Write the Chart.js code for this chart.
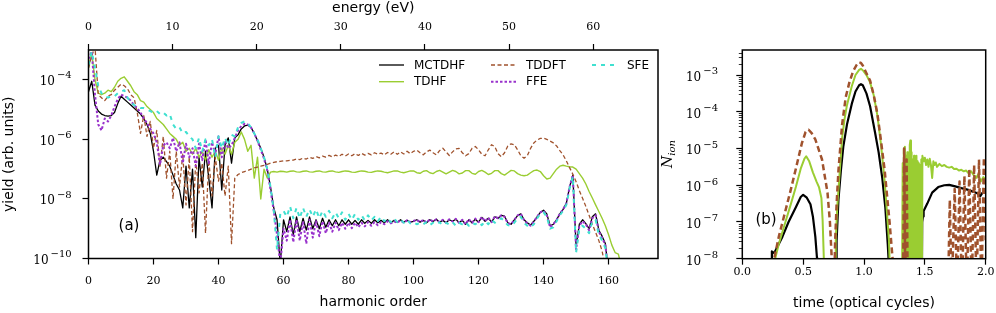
<!DOCTYPE html>
<html>
<head>
<meta charset="utf-8">
<script src="https://cdn.jsdelivr.net/npm/chart.js@4.4.0/dist/chart.umd.min.js"></script>
<style>
  html, body { margin: 0; padding: 0; background: #fff; }
  #wrap { position: relative; width: 996px; height: 313px; overflow: hidden; }
  canvas { position: absolute; top: 0; }
  #spectrum { left: 0; width: 660px; height: 313px; }
  #ionRate { left: 660px; width: 336px; height: 313px; }
</style>
</head>
<body>
<div id="wrap">
  <canvas id="spectrum" width="660" height="313"></canvas>
  <canvas id="ionRate" width="336" height="313"></canvas>
</div>
<script>
// ---- panel (a): harmonic spectra, values are log10(yield) at harmonic order 0,1,2,...
const harmonicTicks = [0, 20, 40, 60, 80, 100, 120, 140, 160];
const energyTicks = [0, 10, 20, 30, 40, 50, 60];
const yieldTicks = [1e-10, 1e-8, 1e-6, 1e-4];
const harmonicMax = 175.2;
const energyMax = 67.7;   // top axis: photon energy of harmonicMax
const harmonicOrder = Array.from({ length: 165 }, (_, i) => i);

const mctdhfYield = [
  -4.4, -4.05, -4.85, -5.05, -5.15, -5.2, -5.22, -5.2, -5.1, -4.8,
  -4.55, -4.65, -4.75, -4.85, -4.95, -5.05, -5.15, -5.3, -5.5, -5.8,
  -6.4, -7.2, -6.7, -6.6, -6.75, -6.9, -7.2, -7.5, -7.7, -8.3,
  -6.9, -8.3, -7.0, -9.3, -6.6, -7.6, -6.4, -7.3, -8.3, -6.3,
  -6.2, -7.7, -6.2, -5.95, -6.8, -5.95, -5.85, -5.65, -5.55, -5.52,
  -5.6, -5.8, -6.05, -6.3, -6.6, -7.0, -7.6, -8.3, -8.7, -10.2,
  -8.7, -9.1, -8.6, -9.2, -8.6, -9.1, -8.65, -9.05, -8.6, -9.0,
  -8.7, -9.0, -8.65, -8.95, -8.7, -8.9, -8.7, -8.9, -8.7, -8.85,
  -8.7, -8.85, -8.72, -8.85, -8.7, -8.82, -8.72, -8.82, -8.7, -8.8,
  -8.72, -8.8, -8.7, -8.8, -8.72, -8.78, -8.7, -8.78, -8.72, -8.78,
  -8.75, -8.7, -8.78, -8.72, -8.8, -8.7, -8.76, -8.68, -8.78, -8.72,
  -8.8, -8.7, -8.75, -8.68, -8.8, -8.72, -8.85, -8.7, -8.8, -8.68,
  -8.78, -8.62, -8.75, -8.65, -8.78, -8.6, -8.65, -8.55, -8.58, -8.8,
  -8.85, -8.7, -8.56, -8.5, -8.7, -8.8, -8.88, -8.75, -8.6, -8.45,
  -8.38, -8.5, -8.9, -8.85, -8.7, -8.5, -8.35, -8.15, -7.6, -7.2,
  -9.6, -8.85, -8.7, -8.83, -9.0, -8.6, -8.5, -9.05, -9.25, -9.5,
  -10.5
];
const tdhfYield = [
  -3.6, -3.1, -4.0, -4.45, -4.5, -4.45, -4.35, -4.4, -4.25, -4.05,
  -3.95, -3.9, -4.05, -4.2, -4.4, -4.5, -4.7, -4.75, -4.9, -5.0,
  -5.1, -5.3, -5.4, -5.5, -5.65, -5.8, -5.9, -6.0, -6.2, -6.1,
  -6.4, -6.3, -6.5, -6.3, -6.6, -6.4, -6.7, -6.35, -6.6, -6.4,
  -6.7, -6.3, -6.5, -6.2, -6.5, -6.1, -6.0, -5.75, -6.0, -6.4,
  -6.2, -7.3, -6.6, -8.0, -7.0, -7.3, -7.1, -7.08, -7.1, -7.07,
  -7.08, -7.1, -7.07, -7.06, -7.09, -7.1, -7.07, -7.06, -7.09, -7.1,
  -7.07, -7.06, -7.09, -7.1, -7.07, -7.06, -7.09, -7.11, -7.08, -7.06,
  -7.07, -7.1, -7.11, -7.08, -7.06, -7.07, -7.1, -7.11, -7.08, -7.06,
  -7.07, -7.1, -7.12, -7.09, -7.06, -7.06, -7.1, -7.12, -7.09, -7.06,
  -7.06, -7.12, -7.14, -7.07, -7.05, -7.12, -7.15, -7.08, -7.04, -7.1,
  -7.16, -7.1, -7.04, -7.08, -7.16, -7.13, -7.05, -7.05, -7.14, -7.17,
  -7.08, -7.04, -7.1, -7.18, -7.14, -7.05, -7.05, -7.15, -7.2, -7.12,
  -7.04, -7.06, -7.15, -7.2, -7.22, -7.2, -7.12, -7.05, -7.03, -7.08,
  -7.22, -7.33, -7.3, -7.15, -7.0, -6.9, -6.87, -6.9, -6.92, -6.93,
  -7.0, -7.15, -7.3, -7.5, -7.75, -7.97, -8.2, -8.42, -8.65, -8.9,
  -9.2, -9.55, -9.8, -9.85, -10.3
];
const tddftYield = [
  -3.6, -3.2, -2.9, -4.5, -4.6, -4.7, -4.55, -4.5, -4.35, -4.25,
  -4.15, -4.2, -4.3, -4.5, -4.6, -5.1, -5.8, -5.2, -5.9, -5.4,
  -6.3, -5.7, -6.9, -5.9, -7.3, -6.4, -8.0, -6.4, -7.6, -6.5,
  -8.2, -6.6, -9.1, -6.7, -7.8, -6.8, -9.15, -6.7, -7.9, -6.6,
  -7.4, -6.8, -7.9, -6.9, -9.5, -7.3, -7.18, -7.12, -7.08, -7.05,
  -7.0, -6.96, -6.93, -6.9, -6.87, -6.84, -6.8, -6.77, -6.75, -6.74,
  -6.72, -6.72, -6.7, -6.7, -6.66, -6.68, -6.63, -6.66, -6.6, -6.64,
  -6.58, -6.62, -6.56, -6.6, -6.54, -6.59, -6.53, -6.57, -6.5, -6.56,
  -6.49, -6.55, -6.48, -6.54, -6.47, -6.53, -6.47, -6.52, -6.45, -6.5,
  -6.46, -6.52, -6.44, -6.5, -6.42, -6.5, -6.42, -6.49, -6.4, -6.48,
  -6.4, -6.36, -6.45, -6.52, -6.42, -6.36, -6.45, -6.52, -6.38, -6.3,
  -6.42, -6.54, -6.42, -6.32, -6.3, -6.45, -6.55, -6.48, -6.3, -6.24,
  -6.35, -6.5, -6.55, -6.35, -6.18, -6.25, -6.48, -6.58, -6.45, -6.22,
  -6.15, -6.18, -6.35, -6.55, -6.63, -6.55, -6.3, -6.12, -6.02, -5.97,
  -5.96, -6.0, -6.06, -6.12, -6.22, -6.38, -6.52, -6.72, -6.95, -7.17,
  -7.42, -7.72, -7.98, -8.25, -8.55, -8.85, -9.12, -9.4, -9.75, -10.3
];
const ffeYield = [
  -3.3, -3.05, -4.5, -5.5, -5.7, -5.3, -5.4, -5.2, -4.9, -4.65,
  -4.5, -4.55, -4.6, -4.7, -4.85, -4.95, -5.1, -5.3, -5.45, -5.65,
  -5.8, -6.1, -6.85, -6.2, -6.1, -6.3, -5.95, -6.4, -6.1, -6.8,
  -6.15, -6.6, -6.3, -6.9, -6.15, -6.7, -6.0, -6.8, -6.1, -6.5,
  -5.9, -6.6, -6.05, -6.3, -6.2, -5.95, -5.7, -5.55, -5.48, -5.5,
  -5.6, -5.8, -6.05, -6.35, -6.65, -7.05, -7.7, -8.4, -9.2, -10.2,
  -9.0, -9.4, -8.7, -9.45, -8.7, -9.4, -8.75, -9.5, -8.7, -9.3,
  -8.75, -9.25, -8.75, -9.15, -8.8, -9.1, -8.8, -9.05, -8.8, -9.0,
  -8.8, -8.98, -8.8, -8.95, -8.8, -8.92, -8.78, -8.9, -8.78, -8.88,
  -8.78, -8.85, -8.75, -8.82, -8.75, -8.8, -8.72, -8.8, -8.72, -8.78,
  -8.74, -8.7, -8.78, -8.7, -8.8, -8.68, -8.76, -8.68, -8.78, -8.7,
  -8.8, -8.68, -8.76, -8.67, -8.8, -8.7, -8.85, -8.68, -8.8, -8.66,
  -8.78, -8.6, -8.75, -8.63, -8.78, -8.58, -8.65, -8.55, -8.6, -8.82,
  -8.85, -8.7, -8.55, -8.5, -8.72, -8.82, -8.9, -8.76, -8.6, -8.45,
  -8.4, -8.55, -8.95, -8.85, -8.7, -8.5, -8.35, -8.15, -7.6, -7.2,
  -9.7, -8.9, -8.75, -8.85, -9.05, -8.65, -8.55, -9.1, -9.3, -9.55,
  -10.5
];
const sfeYield = [
  -3.5, -3.05, -3.6, -4.2, -4.45, -4.55, -4.6, -4.55, -4.55, -4.45,
  -4.4, -4.35, -4.6, -4.75, -4.85, -4.9, -4.95, -4.95, -5.0, -5.05,
  -5.1, -5.05, -5.15, -5.1, -5.2, -5.15, -5.5, -5.65, -5.6, -5.8,
  -5.75, -5.9, -6.0, -6.3, -5.95, -6.4, -6.0, -6.2, -6.0, -6.6,
  -5.9, -6.3, -5.95, -6.2, -5.85, -5.9, -5.6, -5.45, -5.4, -5.45,
  -5.6, -5.8, -6.0, -6.3, -6.6, -7.0, -7.6, -8.4, -9.7, -8.5,
  -8.4, -8.6, -8.25, -8.65, -8.3, -8.65, -8.3, -8.6, -8.35, -8.6,
  -8.35, -8.65, -8.4, -8.6, -8.4, -8.65, -8.45, -8.65, -8.45, -8.7,
  -8.5, -8.7, -8.5, -8.7, -8.55, -8.72, -8.55, -8.72, -8.6, -8.75,
  -8.6, -8.75, -8.65, -8.78, -8.65, -8.78, -8.7, -8.8, -8.7, -8.82,
  -8.78, -8.85, -8.8, -8.85, -8.78, -8.88, -8.8, -8.85, -8.78, -8.88,
  -8.8, -8.86, -8.78, -8.9, -8.8, -8.85, -8.78, -8.9, -8.8, -8.85,
  -8.78, -8.88, -8.75, -8.85, -8.7, -8.8, -8.7, -8.65, -8.75, -8.88,
  -8.9, -8.8, -8.65, -8.6, -8.8, -8.9, -8.95, -8.85, -8.65, -8.5,
  -8.45, -8.6, -9.0, -8.95, -8.75, -8.55, -8.4, -8.2, -7.65, -7.25,
  -9.8, -9.0, -8.9, -9.0, -9.15, -8.75, -8.7, -9.2, -9.4, -9.65,
  -10.5
];

// ---- panel (b): ionization rate, [time (optical cycles), log10(rate)]
const timeTicks = [0, 0.5, 1, 1.5, 2];
const rateTicks = [1e-8, 1e-7, 1e-6, 1e-5, 1e-4, 1e-3];
const rateMin = 1e-8;
const rateMax = 4.8e-3;

const mctdhfRate = [
  [0.24, -9], [0.243, -7.8], [0.25, -7.85], [0.27, -7.8], [0.33, -7.4], [0.38, -7.0], [0.44, -6.6],
  [0.48, -6.32], [0.50, -6.26], [0.53, -6.34], [0.56, -6.52], [0.58, -6.85], [0.60, -7.4], [0.614, -8.0], [0.62, -9],
  [0.77, -9], [0.775, -7.5], [0.79, -6.4], [0.81, -5.6], [0.83, -4.95], [0.86, -4.35], [0.90, -3.78], [0.93, -3.45],
  [0.96, -3.28], [0.975, -3.25], [0.99, -3.28], [1.02, -3.5], [1.05, -3.85], [1.09, -4.55], [1.12, -5.1], [1.15, -5.8],
  [1.175, -6.6], [1.195, -7.6], [1.205, -8.2], [1.21, -9],
  [1.475, -9], [1.478, -7.0], [1.485, -6.85], [1.49, -6.7], [1.52, -6.5], [1.56, -6.2], [1.61, -6.05], [1.66, -6.0],
  [1.70, -5.99], [1.75, -6.03], [1.80, -6.08], [1.85, -6.12], [1.90, -6.18], [1.93, -6.22], [1.955, -6.3], [1.97, -6.22],
  [1.985, -6.17], [2.0, -6.2]
];
const tdhfRate = [
  [0.265, -9], [0.27, -8.0], [0.30, -7.6], [0.35, -7.05], [0.40, -6.5], [0.44, -6.05], [0.48, -5.55], [0.51, -5.28],
  [0.525, -5.21], [0.55, -5.35], [0.58, -5.65], [0.61, -5.9], [0.63, -6.05], [0.65, -6.35], [0.66, -6.95], [0.67, -8.0], [0.675, -9],
  [0.762, -9], [0.768, -7.5], [0.78, -6.6], [0.795, -5.9], [0.82, -4.72], [0.84, -4.2], [0.86, -3.82], [0.90, -3.3],
  [0.93, -3.0], [0.96, -2.86], [0.975, -2.83], [0.99, -2.87], [1.02, -3.0], [1.05, -3.2], [1.08, -3.55], [1.11, -4.1],
  [1.14, -4.9], [1.17, -5.9], [1.19, -6.8], [1.205, -7.5], [1.212, -8.2], [1.215, -9],
  [1.312, -9], [1.318, -5.4], [1.322, -9], [1.327, -5.0], [1.332, -9], [1.336, -4.95], [1.341, -8.5], [1.346, -5.2],
  [1.351, -9], [1.356, -5.1], [1.361, -8.7], [1.366, -5.3], [1.371, -9], [1.376, -4.9], [1.381, -4.78], [1.386, -8.4],
  [1.391, -5.1], [1.396, -9], [1.401, -5.3], [1.406, -8.8], [1.411, -5.2], [1.416, -9], [1.421, -5.4], [1.426, -8.6],
  [1.431, -5.2], [1.436, -9], [1.441, -5.35], [1.446, -8.9], [1.451, -5.4], [1.456, -9], [1.461, -5.45], [1.466, -8.7],
  [1.471, -5.3], [1.476, -9], [1.48, -5.2],
  [1.49, -5.35], [1.50, -5.25], [1.51, -5.45], [1.52, -5.3], [1.53, -5.5], [1.54, -5.28], [1.55, -5.45], [1.56, -5.8],
  [1.57, -5.35], [1.58, -5.45], [1.59, -5.38], [1.60, -5.5], [1.62, -5.42], [1.64, -5.48], [1.66, -5.45], [1.68, -5.5],
  [1.70, -5.52], [1.72, -5.5], [1.74, -5.56], [1.76, -5.55], [1.78, -5.6], [1.80, -5.58], [1.82, -5.62], [1.84, -5.6],
  [1.86, -5.68], [1.88, -5.62], [1.90, -5.72], [1.92, -5.8], [1.94, -5.7], [1.96, -5.9], [1.98, -5.78], [2.0, -5.85]
];
const tddftRate = [
  [0.258, -9], [0.262, -8.0], [0.30, -7.4], [0.35, -6.75], [0.40, -6.1], [0.44, -5.55], [0.49, -4.85], [0.52, -4.55],
  [0.545, -4.49], [0.57, -4.58], [0.60, -4.75], [0.63, -5.05], [0.655, -5.3], [0.68, -5.8], [0.70, -6.2], [0.72, -7.0],
  [0.735, -8.0], [0.74, -9],
  [0.755, -9], [0.762, -7.6], [0.775, -6.5], [0.79, -5.6], [0.82, -4.35], [0.85, -3.6], [0.88, -3.2], [0.91, -2.9],
  [0.94, -2.72], [0.958, -2.65], [0.975, -2.67], [0.99, -2.74], [1.02, -2.95], [1.05, -3.15], [1.08, -3.55], [1.11, -4.05],
  [1.14, -4.8], [1.17, -5.6], [1.19, -6.3], [1.21, -7.0], [1.225, -7.6], [1.235, -8.0], [1.24, -9],
  [1.32, -9], [1.33, -5.0], [1.34, -9], [1.35, -5.3], [1.36, -9],
  [1.69, -9], [1.705, -6.4], [1.72, -9], [1.745, -6.1], [1.765, -9], [1.785, -5.9], [1.805, -9], [1.825, -5.75],
  [1.845, -9], [1.865, -5.55], [1.885, -9], [1.905, -5.45], [1.925, -9], [1.945, -5.3], [1.965, -9], [1.985, -5.25], [2.0, -7.5]
];

// ---- helpers
function spectrumPoints(logs) {
  return logs.map((v, i) => ({ x: harmonicOrder[i], y: Math.pow(10, v) }));
}
function ratePoints(pairs) {
  return pairs.map(p => ({ x: p[0], y: Math.pow(10, p[1]) }));
}
function setTicks(values) {
  return axis => { axis.ticks = values.map(v => ({ value: v })); };
}

Chart.defaults.font.family = 'DejaVu Sans';
Chart.defaults.color = '#000';

// box round the plot area, drawn over the lines
const frame = {
  id: 'frame',
  afterDatasetsDraw(chart) {
    const a = chart.chartArea, ctx = chart.ctx;
    ctx.save();
    ctx.strokeStyle = '#000';
    ctx.lineWidth = 1.5;
    ctx.strokeRect(a.left, a.top, a.right - a.left, a.bottom - a.top);
    ctx.restore();
  }
};

// 10^n labels on the log axis, plus optional minor ticks and extra texts
const logLabels = {
  id: 'logLabels',
  afterDraw(chart, args, opts) {
    const ctx = chart.ctx, scale = chart.scales.y, a = chart.chartArea;
    ctx.save();
    ctx.fillStyle = '#000';
    ctx.strokeStyle = '#000';
    ctx.textAlign = 'right';
    ctx.textBaseline = 'middle';
    scale.ticks.forEach(t => {
      const y = scale.getPixelForValue(t.value);
      const e = Math.round(Math.log10(t.value));
      const expText = '\u2212' + Math.abs(e);
      ctx.font = '10px "DejaVu Serif"';
      ctx.fillText(expText, opts.right, y + opts.expDy);
      const w = ctx.measureText(expText).width;
      ctx.font = '12px "DejaVu Serif"';
      ctx.fillText('10', opts.right - w - 2, y + opts.baseDy);
    });
    if (opts.minor) {
      ctx.lineWidth = 0.8;
      for (let n = -9; n <= -2; n++) {
        for (let k = 2; k <= 9; k++) {
          const v = k * Math.pow(10, n);
          if (v < scale.min || v > scale.max) continue;
          const y = Math.round(scale.getPixelForValue(v)) + 0.5;
          ctx.beginPath();
          ctx.moveTo(a.left, y);
          ctx.lineTo(a.left - 3.5, y);
          ctx.stroke();
        }
      }
    }
    // panel tag
    ctx.textAlign = 'center';
    ctx.font = '15px "DejaVu Sans"';
    ctx.fillText(opts.tag, opts.tagX, opts.tagY);
    ctx.restore();
  }
};

// legend in three columns like the original figure
const columnLegend = {
  id: 'columnLegend',
  afterDraw(chart, args, opts) {
    const ctx = chart.ctx;
    ctx.save();
    ctx.font = '12px "DejaVu Sans"';
    ctx.textAlign = 'left';
    ctx.textBaseline = 'middle';
    opts.slots.forEach((s, i) => {
      const ds = chart.data.datasets[i];
      ctx.strokeStyle = ds.borderColor;
      ctx.lineWidth = ds.borderWidth;
      ctx.setLineDash(ds.borderDash || []);
      ctx.beginPath();
      ctx.moveTo(s[0], s[1]);
      ctx.lineTo(s[0] + 25, s[1]);
      ctx.stroke();
      ctx.setLineDash([]);
      ctx.fillStyle = '#000';
      ctx.fillText(ds.label, s[0] + 35, s[1] + 0.5);
    });
    ctx.restore();
  }
};

// dotted N with subscript "ion" as the y title of panel (b)
const rateTitle = {
  id: 'rateTitle',
  afterDraw(chart) {
    const ctx = chart.ctx;
    ctx.save();
    ctx.translate(12, 154);
    ctx.rotate(-Math.PI / 2);
    ctx.fillStyle = '#000';
    ctx.textBaseline = 'alphabetic';
    ctx.textAlign = 'left';
    ctx.font = 'italic 14px "DejaVu Serif"';
    const nw = ctx.measureText('N').width;
    ctx.font = 'italic 10px "DejaVu Serif"';
    const sw = ctx.measureText('ion').width;
    const x0 = -(nw + sw) / 2;
    ctx.font = 'italic 14px "DejaVu Serif"';
    ctx.fillText('N', x0, 0);
    ctx.beginPath();
    ctx.arc(x0 + nw * 0.6, -13.5, 1.1, 0, Math.PI * 2);
    ctx.fill();
    ctx.font = 'italic 10px "DejaVu Serif"';
    ctx.fillText('ion', x0 + nw, 3);
    ctx.restore();
  }
};

const tickFont = { family: 'DejaVu Serif', size: 11 };
const titleFont = { family: 'DejaVu Sans', size: 14 };
const tickGrid = { drawOnChartArea: false, drawTicks: true, tickLength: 6, tickWidth: 1.2, tickColor: '#000' };

new Chart(document.getElementById('spectrum'), {
  type: 'line',
  data: {
    datasets: [
      { label: 'MCTDHF', data: spectrumPoints(mctdhfYield), borderColor: '#000000', borderWidth: 1.3, borderDash: [], order: 5 },
      { label: 'TDHF', data: spectrumPoints(tdhfYield), borderColor: '#9acd32', borderWidth: 1.4, borderDash: [], order: 4 },
      { label: 'TDDFT', data: spectrumPoints(tddftYield), borderColor: '#a0522d', borderWidth: 1.3, borderDash: [4, 2.5], order: 3 },
      { label: 'FFE', data: spectrumPoints(ffeYield), borderColor: '#9932cc', borderWidth: 2, borderDash: [2.5, 2], order: 2 },
      { label: 'SFE', data: spectrumPoints(sfeYield), borderColor: '#40e0d0', borderWidth: 2, borderDash: [4, 5], order: 1 }
    ]
  },
  options: {
    responsive: false,
    animation: false,
    devicePixelRatio: 1,
    layout: { padding: { left: 0, right: 2, top: 0, bottom: 0 }, autoPadding: false },
    elements: { point: { radius: 0 }, line: { tension: 0, borderJoinStyle: 'round' } },
    plugins: {
      legend: { display: false },
      tooltip: { enabled: false },
      columnLegend: { slots: [[379, 65], [379, 81.7], [491, 65], [491, 81.7], [592, 65]] },
      logLabels: { right: 71.7, baseDy: 2.3, expDy: -4, minor: false, tag: '(a)', tagX: 129, tagY: 226 }
    },
    scales: {
      x: {
        type: 'linear', position: 'bottom', min: 0, max: harmonicMax,
        afterBuildTicks: setTicks(harmonicTicks),
        afterFit: axis => { axis.height = 54.5; },
        ticks: { font: tickFont, padding: 10, maxRotation: 0, autoSkip: false, callback: v => String(v) },
        grid: tickGrid, border: { display: false },
        title: { display: true, text: 'harmonic order', font: titleFont, padding: { top: 0, bottom: 2.6 } }
      },
      energy: {
        type: 'linear', position: 'top', min: 0, max: energyMax,
        afterBuildTicks: setTicks(energyTicks),
        afterFit: axis => { axis.height = 50; },
        ticks: { font: tickFont, padding: 10.5, maxRotation: 0, autoSkip: false, callback: v => String(v) },
        grid: tickGrid, border: { display: false },
        title: { display: true, text: 'energy (eV)', font: titleFont, padding: { top: 0, bottom: 0 } }
      },
      y: {
        type: 'logarithmic', position: 'left', min: 1e-10, max: 1e-3,
        afterBuildTicks: setTicks(yieldTicks),
        afterFit: axis => { axis.width = 88.5; },
        ticks: { display: false },
        grid: tickGrid, border: { display: false },
        title: { display: true, text: 'yield (arb. units)', font: titleFont, padding: { top: 0.6, bottom: 0 } }
      }
    }
  },
  plugins: [frame, logLabels, columnLegend]
});

new Chart(document.getElementById('ionRate'), {
  type: 'line',
  data: {
    datasets: [
      { label: 'MCTDHF', data: ratePoints(mctdhfRate), borderColor: '#000000', borderWidth: 2.2, order: 3 },
      { label: 'TDHF', data: ratePoints(tdhfRate), borderColor: '#9acd32', borderWidth: 2, order: 2 },
      { label: 'TDDFT', data: ratePoints(tddftRate), borderColor: '#a0522d', borderWidth: 2.5, borderDash: [6, 3.5], order: 1 }
    ]
  },
  options: {
    responsive: false,
    animation: false,
    devicePixelRatio: 1,
    layout: { padding: { left: 0, right: 10.3, top: 50, bottom: 0 }, autoPadding: false },
    elements: { point: { radius: 0 }, line: { tension: 0, borderJoinStyle: 'round' } },
    plugins: {
      legend: { display: false },
      tooltip: { enabled: false },
      logLabels: { right: 58, baseDy: 2.8, expDy: -3.3, minor: true, tag: '(b)', tagX: 106, tagY: 220 }
    },
    scales: {
      x: {
        type: 'linear', position: 'bottom', min: 0, max: 2,
        afterBuildTicks: setTicks(timeTicks),
        afterFit: axis => { axis.height = 54.3; },
        ticks: { font: tickFont, padding: 1, maxRotation: 0, autoSkip: false, callback: v => v.toFixed(1) },
        grid: tickGrid, border: { display: false },
        title: { display: true, text: 'time (optical cycles)', font: titleFont, padding: { top: 0, bottom: 1.1 } }
      },
      y: {
        type: 'logarithmic', position: 'left', min: rateMin, max: rateMax,
        afterBuildTicks: setTicks(rateTicks),
        afterFit: axis => { axis.width = 82.3; },
        ticks: { display: false },
        grid: tickGrid, border: { display: false },
        title: { display: false }
      }
    }
  },
  plugins: [frame, logLabels, rateTitle]
});
</script>
</body>
</html>
